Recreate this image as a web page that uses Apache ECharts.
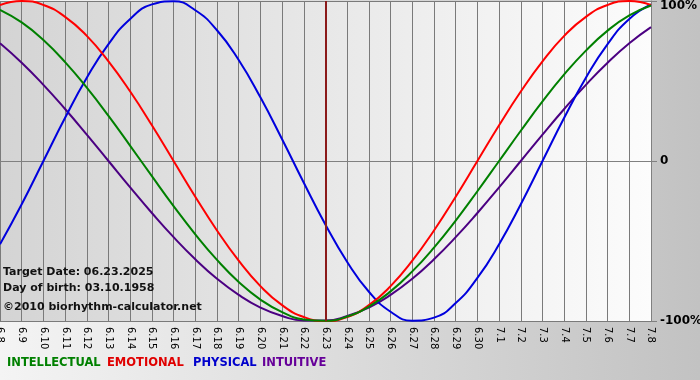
<!DOCTYPE html>
<html><head><meta charset="utf-8">
<script src="https://cdn.jsdelivr.net/npm/echarts@6/dist/echarts.min.js"></script>
<style>
html,body{margin:0;padding:0;}
body{width:700px;height:380px;background:linear-gradient(to right,#f4f4f4,#c2c2c2);}
#c{width:700px;height:380px;}
</style></head><body><div id="c"></div>
<script>
const days = ['6.8','6.9','6.10','6.11','6.12','6.13','6.14','6.15','6.16','6.17','6.18','6.19','6.20','6.21','6.22','6.23','6.24','6.25','6.26','6.27','6.28','6.29','6.30','7.1','7.2','7.3','7.4','7.5','7.6','7.7','7.8'];
const targetDay = '6.23';
const intellectual = [94.5,86.6,75.6,61.8,45.8,28.2,9.5,-9.5,-28.2,-45.8,-61.8,-75.6,-86.6,-94.5,-99.0,-99.9,-97.2,-91.0,-81.5,-69.0,-54.1,-37.2,-18.9,0,18.9,37.2,54.1,69.0,81.5,91.0,97.2];
const emotional = [97.5,100,97.5,90.1,78.2,62.3,43.4,22.3,0,-22.3,-43.4,-62.3,-78.2,-90.1,-97.5,-100,-97.5,-90.1,-78.2,-62.3,-43.4,-22.3,0,22.3,43.4,62.3,78.2,90.1,97.5,100,97.5];
const physical = [-52.0,-27.0,0,27.0,52.0,73.1,88.8,97.9,99.8,94.2,81.7,63.1,39.8,13.6,-13.6,-39.8,-63.1,-81.7,-94.2,-99.8,-97.9,-88.8,-73.1,-52.0,-27.0,0,27.0,52.0,73.1,88.8,97.9];
const intuitive = [73.6,61.4,47.6,32.5,16.5,0,-16.5,-32.5,-47.6,-61.4,-73.6,-83.7,-91.6,-96.9,-99.7,-99.7,-96.9,-91.6,-83.7,-73.6,-61.4,-47.6,-32.5,-16.5,0,16.5,32.5,47.6,61.4,73.6,83.7];
const seriesNames = ['INTELLECTUAL','EMOTIONAL','PHYSICAL','INTUITIVE'];
const seriesColors = ['#008000','#ff0000','#0000dd','#4b0082'];
const legendColors = ['#008000','#e00000','#0000cc','#660099'];
const yTicks = {'100':'100%','0':'0','-100':'-100%'};
const infoLines = ['Target Date: 06.23.2025','Day of birth: 03.10.1958','\u00a92010 biorhythm-calculator.net'];

const chart = echarts.init(document.getElementById('c'), null, {renderer:'canvas'});
const values = [intellectual, emotional, physical, intuitive];
const FONT = 'DejaVu Sans';
const series = [3,2,1,0].map((idx) => ({
  name: seriesNames[idx], type:'line', data: values[idx], smooth: 0.5, smoothMonotone:'none', showSymbol:false,
  lineStyle:{color:seriesColors[idx], width:2}, itemStyle:{color:seriesColors[idx]}, silent:true, z: 3
}));
series[0].markLine = {
  silent:true, symbol:['none','none'], label:{show:false},
  lineStyle:{color:'#8b1a1a', width:2, type:'solid'},
  data:[{xAxis: targetDay}]
};
const legendX = [7,107,193,262];
const graphics = [];
seriesNames.forEach((n,i)=>{
  graphics.push({type:'text', left: legendX[i], top: 357, style:{text:n, fill:legendColors[i], font:'bold 11.5px "'+FONT+'"'}});
});
const infoY = [267, 283, 302];
infoLines.forEach((t,i)=>{
  graphics.push({type:'text', left: 3, top: infoY[i], z:10, style:{text:t, fill:'#111', font:'bold 11px "'+FONT+'"'}});
});
chart.setOption({
  backgroundColor:'transparent',
  animation:false,
  grid:{left:0, top:1, width:651, height:320, show:true, borderWidth:0, containLabel:false, outerBoundsMode:'none',
    backgroundColor:{type:'linear', x:0, y:0, x2:1, y2:0, colorStops:[{offset:0,color:'#d4d4d4'},{offset:1,color:'#fcfcfc'}]}},
  xAxis:{type:'category', data:days, boundaryGap:false,
    axisLine:{show:true, lineStyle:{color:'#808080', width:1}},
    axisTick:{show:true, length:6, interval:0, lineStyle:{color:'#808080'}},
    axisLabel:{interval:0, rotate:-90, fontSize:10, color:'#000', fontFamily:FONT, margin:6, hideOverlap:false},
    splitLine:{show:true, interval:0, lineStyle:{color:'#7a7a7a', width:1}}},
  yAxis:{type:'value', min:-100, max:100, interval:100, position:'right',
    axisLine:{show:true, lineStyle:{color:'#808080'}},
    axisTick:{show:true, length:6, lineStyle:{color:'#808080'}},
    axisLabel:{margin:9, formatter:(v)=> v===100 ? '{t|'+yTicks[String(v)]+'}' : yTicks[String(v)],
      color:'#000', fontWeight:'bold', fontSize:12, fontFamily:FONT,
      rich:{t:{padding:[10,0,0,0], color:'#000', fontWeight:'bold', fontSize:12, fontFamily:FONT}}},
    splitLine:{show:true, lineStyle:{color:'#7a7a7a', width:1}}},
  series: series,
  graphic: graphics
});
</script></body></html>
